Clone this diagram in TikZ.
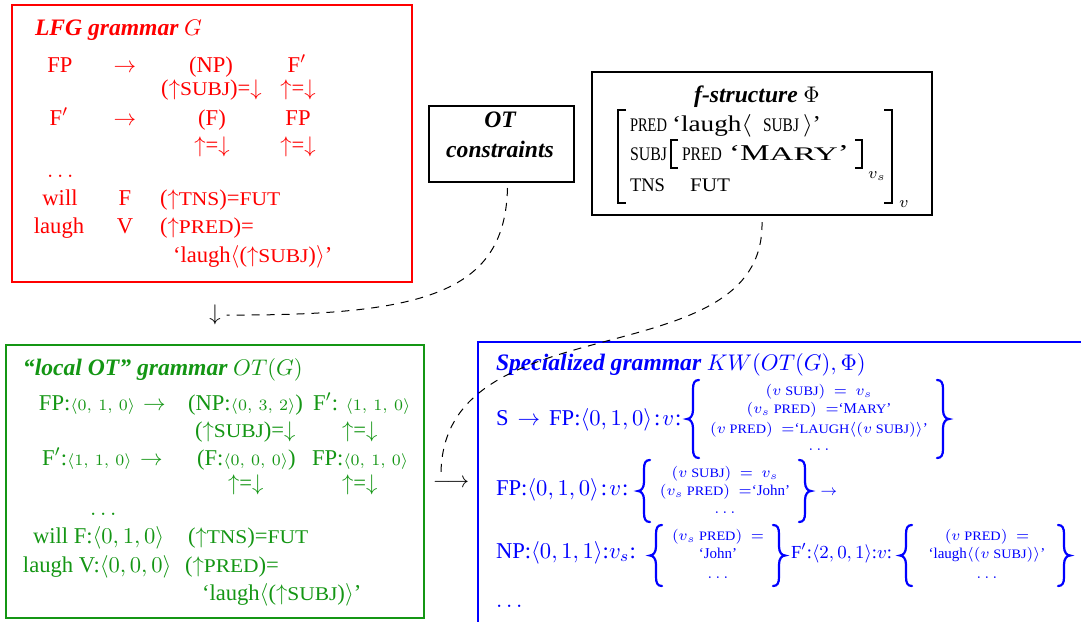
\RequirePackage{fix-cm}
\documentclass[tikz,border=0pt]{standalone}
\usepackage[no-math]{fontspec}
\setmainfont{Liberation Serif}
\usepackage{graphicx}

\definecolor{lfgred}{RGB}{255,0,0}
\definecolor{otgreen}{RGB}{20,150,20}
\definecolor{kwblue}{RGB}{0,0,255}

% fake small capitals
\newcommand\smc[1]{\scalebox{0.95}[0.86]{#1}}
\newcommand\fsc[1]{\scalebox{1}[0.85]{#1}}
% set a piece of text to a given width
\newcommand\fitw[2]{\resizebox{#1}{\height}{#2}}
\newcommand\ua{$\uparrow$}
\newcommand\da{$\downarrow$}
\newcommand\tup[3]{$\scriptstyle\langle #1,\mkern6mu #2,\mkern6mu #3\rangle$}
\newcommand\bodyfont{\fontsize{11.3}{13.5}\selectfont}
\newcommand\headfont{\fontsize{11.8}{14}\selectfont\bfseries\itshape}
% curly braces: tip x, centre y, half height (picture units)
\newcommand\lbr[3]{\draw[bracestroke] (#1+12,#2-#3) .. controls (#1+7.5,#2-#3) and (#1+6,#2-#3+3) .. (#1+6,#2-#3+9) -- (#1+6,#2-9) .. controls (#1+6,#2-3) and (#1+3,#2) .. (#1,#2) .. controls (#1+3,#2) and (#1+6,#2+3) .. (#1+6,#2+9) -- (#1+6,#2+#3-9) .. controls (#1+6,#2+#3-3) and (#1+7.5,#2+#3) .. (#1+12,#2+#3);}
\newcommand\rbr[3]{\draw[bracestroke] (#1-12,#2-#3) .. controls (#1-7.5,#2-#3) and (#1-6,#2-#3+3) .. (#1-6,#2-#3+9) -- (#1-6,#2-9) .. controls (#1-6,#2-3) and (#1-3,#2) .. (#1,#2) .. controls (#1-3,#2) and (#1-6,#2+3) .. (#1-6,#2+9) -- (#1-6,#2+#3-9) .. controls (#1-6,#2+#3-3) and (#1-7.5,#2+#3) .. (#1-12,#2+#3);}

\begin{document}
\begin{tikzpicture}[x=0.5pt,y=-0.5pt,
  every node/.style={inner sep=0pt, outer sep=0pt, font=\bodyfont},
  tw/.style={anchor=base west},
  tc/.style={anchor=base},
  frame/.style={draw, line width=1pt, inner sep=0pt},
  bracket/.style={line width=1.1pt},
  bracestroke/.style={draw=kwblue, line width=1.1pt, line cap=round},
  inner/.style={anchor=base, font=\fontsize{7.5}{9}\selectfont},
  dashlink/.style={draw=black, line width=0.5pt, dash pattern=on 4pt off 3.5pt}]
\useasboundingbox (0,0) rectangle (1081,621);
\clip (0,0) rectangle (1081,621);

% ---------- frames ----------
\node[frame, draw=lfgred, minimum width=200pt, minimum height=138.5pt] (lfg) at (212,143.5) {};
\node[frame, minimum width=72.5pt, minimum height=38pt] (otc) at (501.5,144) {};
\node[frame, minimum width=170pt, minimum height=71.5pt] (fst) at (762,143.5) {};
\node[frame, draw=otgreen, minimum width=209pt, minimum height=136.5pt] (lot) at (215,481.5) {};
\node[frame, draw=kwblue, minimum width=311pt, minimum height=149pt] (kw) at (789,491) {};

% ---------- LFG grammar ----------
\begin{scope}[text=lfgred]
\node[tw] (lt) at (35,35) {{\headfont LFG grammar} $G$};
\node[tc] (l1a) at (60,72) {FP};
\node[tc] (l1b) at (125,72) {$\rightarrow$};
\node[tc] (l1c) at (211,72) {(NP)};
\node[tc] (l1d) at (297,72) {F$'$};
\node[tc] (l2a) at (211.5,95) {(\ua\smc{SUBJ})=\da};
\node[tc] (l2b) at (298,95) {\ua=\da};
\node[tc] (l3a) at (59,125) {F$'$};
\node[tc] (l3b) at (125,125) {$\rightarrow$};
\node[tc] (l3c) at (212,125) {(F)};
\node[tc] (l3d) at (298,125) {FP};
\node[tc] (l4a) at (212,152) {\ua=\da};
\node[tc] (l4b) at (298,152) {\ua=\da};
\node[tw] (l5) at (47,177) {$\ldots$};
\node[tc] (l6a) at (60,205) {will};
\node[tc] (l6b) at (125,205) {F};
\node[tw] (l6c) at (160,205) {(\ua\smc{TNS})=\smc{FUT}};
\node[tc] (l7a) at (59,233) {laugh};
\node[tc] (l7b) at (125,233) {V};
\node[tw] (l7c) at (160,233) {(\ua\smc{PRED})=};
\node[tw] (l8) at (173,262) {‘laugh$\langle$(\ua\smc{SUBJ})$\rangle$’};
\end{scope}

% ---------- OT constraints ----------
\node[tc, font=\headfont] (ot1) at (500,127) {OT};
\node[tc, font=\headfont] (ot2) at (500,157) {constraints};

% ---------- f-structure ----------
\node[tc] (ft) at (757,102) {{\headfont f-structure} $\Phi$};
\draw[bracket] (626,110) -- (618,110) -- (618,203) -- (626,203);
\draw[bracket] (884,110) -- (892,110) -- (892,203) -- (884,203);
\node[tw] (fbv) at (899,207) {$\scriptstyle v$};
\node[tw] (f1a) at (630,131) {\fitw{18.5pt}{\fsc{PRED}}};
\node[tw] (f1b) at (672,131) {\fitw{40pt}{‘laugh$\langle$}};
\node[tw] (f1c) at (763,131) {\fitw{18pt}{\fsc{SUBJ}}};
\node[tw] (f1d) at (803,131) {\fitw{9pt}{$\rangle$’}};
\node[tw] (f2a) at (630,160) {\fitw{18.5pt}{\fsc{SUBJ}}};
\draw[bracket, line width=1pt] (678,140) -- (671,140) -- (671,168) -- (678,168);
\node[tw] (f2b) at (682,160) {\fitw{20pt}{\fsc{PRED}}};
\node[tw] (f2c) at (729,160) {\fitw{60pt}{‘M\fsc{ARY}’}};
\draw[bracket, line width=1pt] (855,140) -- (862,140) -- (862,168) -- (855,168);
\node[tw] (fiv) at (868,178) {$\scriptstyle v_s$};
\node[tw] (f3a) at (630,191) {\fitw{17.5pt}{\fsc{TNS}}};
\node[tw] (f3b) at (690,191) {\fitw{20pt}{\fsc{FUT}}};

% ---------- local OT grammar ----------
\begin{scope}[text=otgreen]
\node[tw] (gt) at (23,375) {{\headfont “local OT” grammar} $OT(G)$};
\node[tw] (g1a) at (39,410) {FP:\tup{0}{1}{0}};
\node[tw] (g1b) at (143,410) {$\rightarrow$};
\node[tw] (g1c) at (188,410) {(NP:\tup{0}{3}{2})};
\node[tw] (g1d) at (313,410) {F$'$: \tup{1}{1}{0}};
\node[tw] (g2a) at (195,437) {(\ua\smc{SUBJ})=\da};
\node[tw] (g2b) at (342,437) {\ua=\da};
\node[tw] (g3a) at (42,465) {F$'$:\tup{1}{1}{0}};
\node[tw] (g3b) at (140,465) {$\rightarrow$};
\node[tw] (g3c) at (197,465) {(F:\tup{0}{0}{0})};
\node[tw] (g3d) at (312,465) {FP:\tup{0}{1}{0}};
\node[tw] (g4a) at (228,490) {\ua=\da};
\node[tw] (g4b) at (342,490) {\ua=\da};
\node[tw] (g5) at (90,515) {$\ldots$};
\node[tw] (g6a) at (33,543) {will F:$\langle 0,1,0\rangle$};
\node[tw] (g6b) at (188,543) {(\ua\smc{TNS})=\smc{FUT}};
\node[tw] (g7a) at (23,572) {laugh V:$\langle 0,0,0\rangle$};
\node[tw] (g7b) at (185,572) {(\ua\smc{PRED})=};
\node[tw] (g8) at (202,600) {‘laugh$\langle$(\ua\smc{SUBJ})$\rangle$’};
\end{scope}

% ---------- specialized grammar ----------
\begin{scope}[text=kwblue]
\node[tw] (kt) at (496,370) {{\headfont Specialized grammar} $KW(OT(G),\Phi)$};
% S rule
\node[tw] (k1) at (496,425) {S\hspace{4.5pt}$\rightarrow$\hspace{4.5pt}FP:$\langle 0,1,0\rangle$\kern1pt:\kern1pt$v$\kern0.5pt:};
\lbr{687}{419}{39}
\node[inner] (k1a) at (819,395) {$(v\ \mbox{\smc{SUBJ}})\ =\ v_s$};
\node[inner] (k1b) at (819,413) {$(v_s\ \mbox{\smc{PRED}})\ =$‘M\smc{ARY}’};
\node[inner] (k1c) at (819,433) {$(v\ \mbox{\smc{PRED}})\ =$‘\smc{LAUGH}$\langle(v\ \mbox{\smc{SUBJ}})\rangle$’};
\node[inner] (k1d) at (819,450) {$\ldots$};
\rbr{949}{419}{39}
% FP rule
\node[tw] (k2) at (496,495) {FP:$\langle 0,1,0\rangle$\kern1pt:\kern1pt$v$\kern0.5pt:};
\lbr{638}{491}{31}
\node[inner] (k2a) at (725,477) {$(v\ \mbox{\smc{SUBJ}})\ =\ v_s$};
\node[inner] (k2b) at (725,495) {$(v_s\ \mbox{\smc{PRED}})\ =$‘John’};
\node[inner] (k2c) at (725,513) {$\ldots$};
\rbr{811}{491}{31}
\node[tc, font=\fontsize{7.5}{9}\selectfont] (k2x) at (829,495) {$\rightarrow$};
% NP and F' daughters
\node[tw] (k3) at (496,558) {NP:$\langle 0,1,1\rangle$:$v_s$:};
\lbr{650}{555.5}{30.5}
\node[inner] (k3a) at (718,540) {$(v_s\ \mbox{\smc{PRED}})\ =$};
\node[inner] (k3b) at (718,558) {‘John’};
\node[inner] (k3c) at (718,578) {$\ldots$};
\rbr{785}{555.5}{30.5}
\node[tw, font=\fontsize{9.2}{11}\selectfont] (k4) at (791,558) {F$'$:$\langle 2,0,1\rangle$:$v$:};
\lbr{900}{555.5}{30.5}
\node[inner] (k4a) at (987,540) {$(v\ \mbox{\smc{PRED}})\ =$};
\node[inner] (k4b) at (987,558) {‘laugh$\langle(v\ \mbox{\smc{SUBJ}})\rangle$’};
\node[inner] (k4c) at (987,578) {$\ldots$};
\rbr{1070}{555.5}{30.5}
\node[tw] (k5) at (496,607) {$\ldots$};
\end{scope}

% ---------- arrows ----------
\node (darr) at (215,315) {$\downarrow$};
\node (larr) at (451,483) {$\longrightarrow$};
\draw[dashlink] ([xshift=3pt,yshift=-3pt]otc.south) .. controls (505,290) and (430,316) .. ([xshift=3pt]darr.east);
\draw[dashlink] ([yshift=-3.5pt]fst.south) .. controls (765,380) and (441,300) .. ([xshift=-5pt,yshift=2pt]larr.north);
\end{tikzpicture}
\end{document}
